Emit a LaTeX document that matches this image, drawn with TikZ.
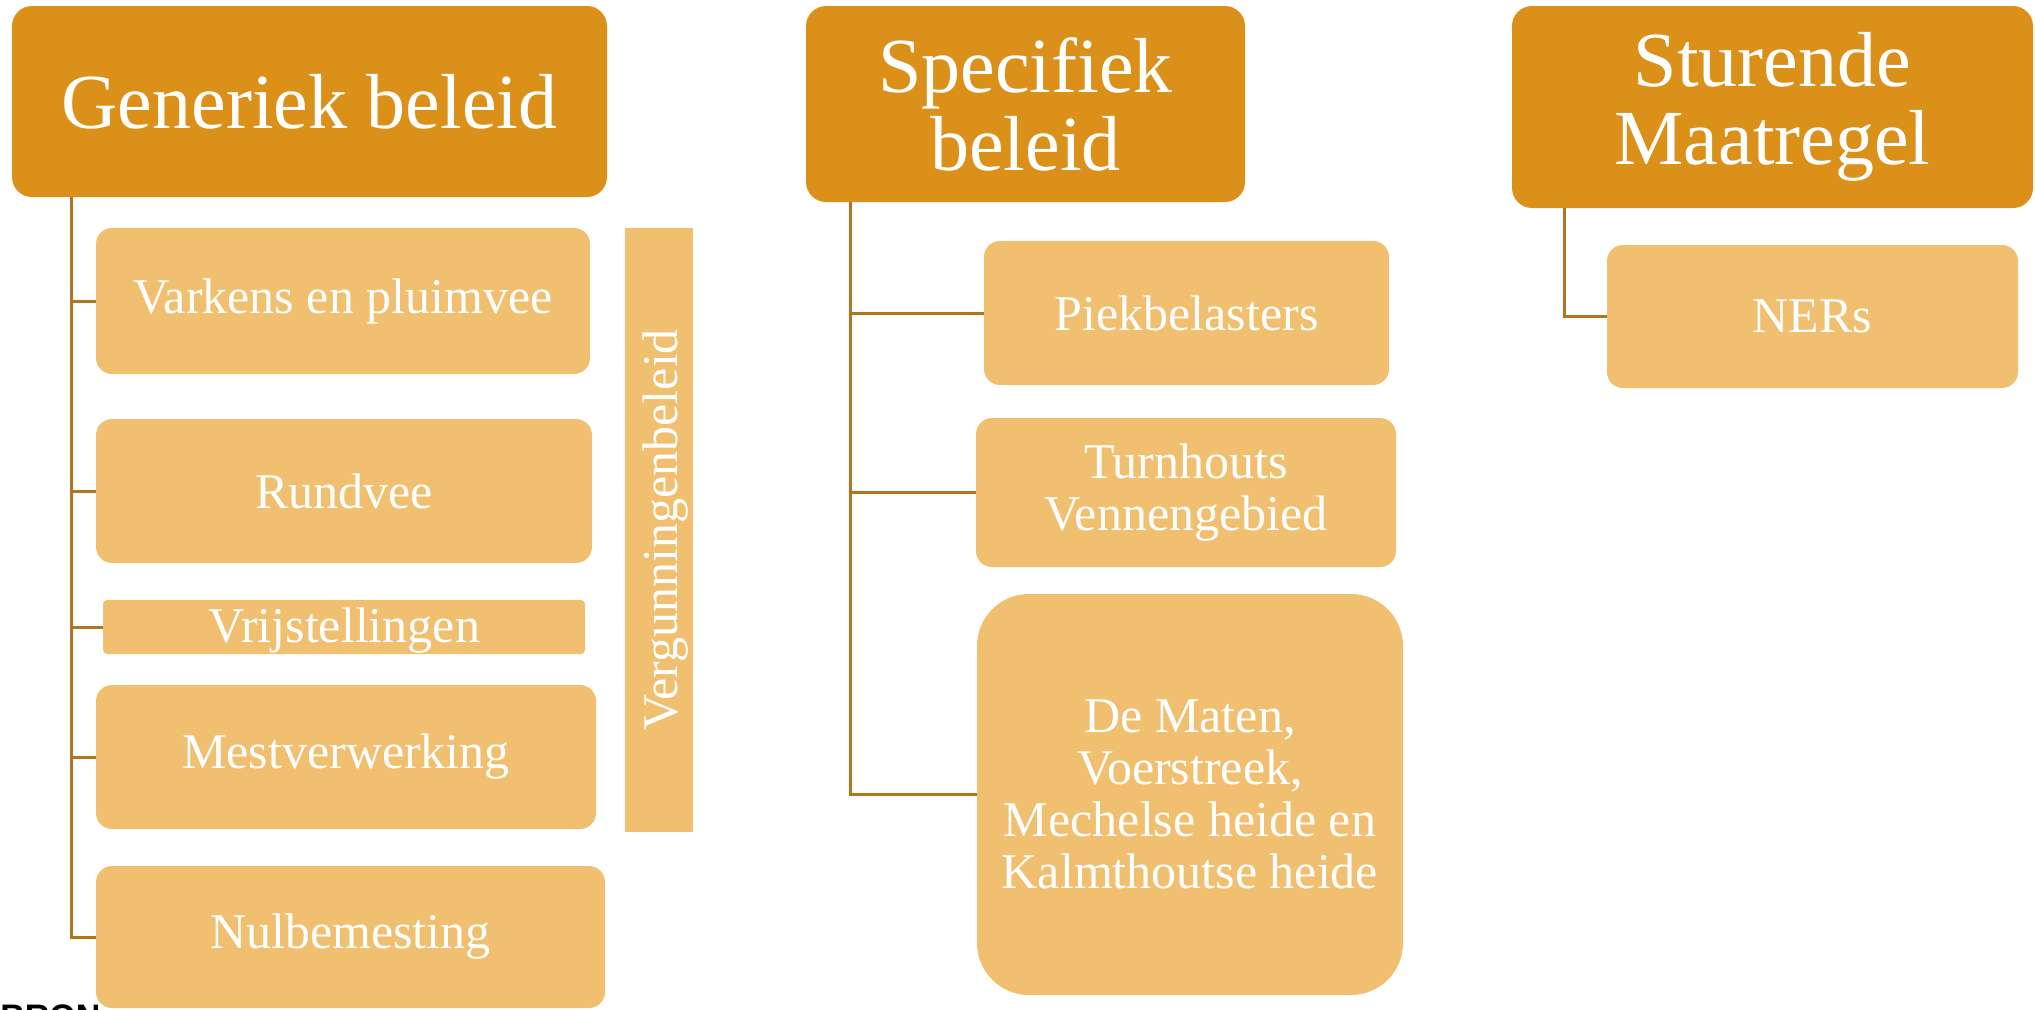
\documentclass[tikz,border=0pt]{standalone}
\usepackage{fontspec}
\setmainfont{Liberation Serif}
\setsansfont{Liberation Sans}
\definecolor{headc}{HTML}{DB901A}
\definecolor{subc}{HTML}{F0BF70}
\definecolor{linkc}{HTML}{B0761E}
\begin{document}
\begin{tikzpicture}[x=0.5pt,y=-0.5pt,
  head/.style={fill=headc, rounded corners=10pt, text=white, align=center,
    font=\fontsize{39}{39}\selectfont, inner sep=0pt},
  sub/.style={fill=subc, rounded corners=8pt, text=white, align=center,
    font=\fontsize{25}{26}\selectfont, inner sep=0pt},
  link/.style={draw=linkc, line width=1.5pt}]
\useasboundingbox (0,0) rectangle (2035,1009);

% headers
\node[head, minimum width=297.5pt, minimum height=95.5pt] (h1) at (309.5,101.5) {Generiek beleid};
\node[head, minimum width=219.5pt, minimum height=98pt] (h2) at (1025.5,104) {Specifiek\\beleid};
\node[head, minimum width=260.5pt, minimum height=101pt] (h3) at (1772.5,107) {Sturende\\Maatregel};

% column 1
\node[sub, minimum width=247pt, minimum height=73pt] (c11) at (343,301) {Varkens en pluimvee};
\node[sub, minimum width=248pt, minimum height=72pt] (c12) at (344,491) {Rundvee};
\node[sub, rounded corners=2pt, minimum width=241pt, minimum height=27pt, text depth=2pt] (c13) at (344,627) {Vrijstellingen};
\node[sub, minimum width=250pt, minimum height=72pt] (c14) at (346,757) {Mestverwerking};
\node[sub, minimum width=254.5pt, minimum height=71pt] (c15) at (350.5,937) {Nulbemesting};
\node[sub, rounded corners=0pt, minimum width=34pt, minimum height=302pt] (verg) at (659,530) {};
\node[text=white, rotate=90, font=\fontsize{25}{26}\selectfont, inner sep=0pt] (vergt) at ([xshift=3.5pt]verg.center) {Vergunningenbeleid};

% column 2
\node[sub, minimum width=202.5pt, minimum height=72pt] (c21) at (1186.5,313) {Piekbelasters};
\node[sub, minimum width=210pt, minimum height=74.5pt] (c22) at (1186,492.5) {Turnhouts\\Vennengebied};
\node[sub, rounded corners=26pt, minimum width=213pt, minimum height=200.5pt] (c23) at (1190,794.5) {De Maten,\\Voerstreek,\\Mechelse heide en\\Kalmthoutse heide};

% column 3
\node[sub, minimum width=205.5pt, minimum height=71.5pt] (c31) at (1812.5,316.5) {NERs};

% stems
\coordinate (s1) at (71,197);
\coordinate (s2) at (850,202);
\coordinate (s3) at (1564,208);

\foreach \n in {c11,c12,c13,c14,c15}{\draw[link] (s1) |- (\n.west);}
\foreach \n in {c21,c22,c23}{\draw[link] (s2) |- (\n.west);}
\draw[link] (s3) |- (c31.west);

% cut-off footer text
\node[anchor=north west, inner sep=0pt, font=\sffamily\bfseries\fontsize{17}{17}\selectfont] (src) at (0,1004) {BRON};
\end{tikzpicture}
\end{document}
